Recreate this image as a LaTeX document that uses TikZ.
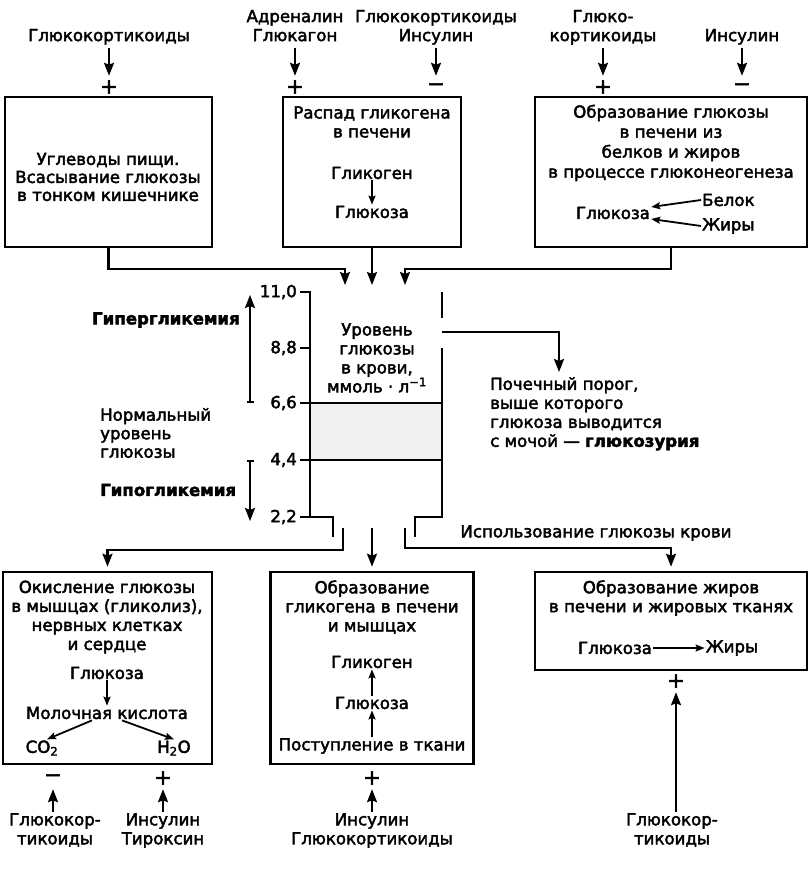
\documentclass[tikz,border=0pt]{standalone}
\usepackage{fontspec}
\setmainfont{DejaVu Sans}[FakeBold=2.5, BoldFont=DejaVu Sans Bold]
\usetikzlibrary{arrows.meta,positioning}
\tikzstyle{boxframe} = [rectangle, draw=black, line width=2.6pt, inner sep=0pt]
\tikzstyle{txt} = [align=center, inner sep=1pt]
\tikzstyle{hormone} = [align=center, inner sep=1pt, execute at begin node=\strut, execute at end node=\strut]
\tikzstyle{sign} = [inner sep=0pt, minimum height=22pt, font=\fontsize{21}{22}\selectfont]
\tikzstyle{lvl} = [anchor=east, inner sep=1pt]
\tikzstyle{wall} = [line width=2.4pt]
\tikzstyle{arrow} = [line width=2.2pt, -{Stealth[length=13pt,width=10pt,inset=2pt]}]
\tikzstyle{thin arrow} = [line width=1.8pt, -{Stealth[length=9pt,width=7pt,inset=1.5pt]}]
\tikzstyle{span arrow} = [line width=2.2pt, {Bar[width=7pt]}-{Stealth[length=13pt,width=10pt,inset=2pt]}]

\begin{document}
\begin{tikzpicture}[x=1pt, y=-1pt, font=\fontsize{16.6}{19}\selectfont]
	\useasboundingbox (0,0) rectangle (809,869);
	% sources of glucose
	\node (box1) [boxframe, minimum width=207pt, minimum height=150pt] at (108.5,172) {};
	\node (box2) [boxframe, minimum width=178pt, minimum height=150pt] at (372,172) {};
	\node (box3) [boxframe, minimum width=272pt, minimum height=150pt] at (671,172) {};
	\node (food) [txt, font=\fontsize{16.6}{18}\selectfont] at (108,177) {Углеводы пищи.\\Всасывание глюкозы\\в тонком кишечнике};
	\node (split) [txt] at (372,122) {Распад гликогена\\в печени};
	\node (glg2) [txt] at (372,173) {Гликоген};
	\node (glc2) [txt] at (372,212) {Глюкоза};
	\draw [thin arrow] (glg2) -- (glc2);
	\node (gng) [txt, font=\fontsize{16.6}{20}\selectfont] at (671,143) {Образование глюкозы\\в печени из\\белков и жиров\\в процессе глюконеогенеза};
	\node (glc3) [txt] at (613,213) {Глюкоза};
	\node (prot) [txt, anchor=west] at (701,200) {Белок};
	\node (fat3) [txt, anchor=west] at (701,226) {Жиры};
	\draw [thin arrow] (prot.west) -- ([yshift=6pt]glc3.east);
	\draw [thin arrow] (fat3.west) -- ([yshift=-6pt]glc3.east);

	\node (hA) [hormone, anchor=south] at (109,48) {Глюкокортикоиды};
	\node (hB) [hormone, anchor=south] at (295,48) {Адреналин\\Глюкагон};
	\node (hC) [hormone, anchor=south] at (436,48) {Глюкокортикоиды\\Инсулин};
	\node (hD) [hormone, anchor=south] at (603,48) {Глюко-\\кортикоиды};
	\node (hE) [hormone, anchor=south] at (742,48) {Инсулин};
	\node (sA) [sign] at (109,87) {+};
	\node (sB) [sign] at (295,87) {+};
	\node (sC) [sign] at (436,87) {−};
	\node (sD) [sign] at (603,87) {+};
	\node (sE) [sign] at (742,87) {−};
	\draw [arrow] (hA) -- (sA);
	\draw [arrow] (hB) -- (sB);
	\draw [arrow] (hC.south) -- (sC);
	\draw [arrow] (hD) -- (sD);
	\draw [arrow] (hE) -- (sE);

	\coordinate (in1) at (345,285);
	\coordinate (in2) at (372,285);
	\coordinate (in3) at (405,285);
	\draw [arrow] (box1.south) -- ++(0,21) -| (in1);
	\draw [arrow] (box2.south) -- (in2);
	\draw [arrow] (box3.south) -- ++(0,21) -| (in3);

	% blood glucose vessel
	\fill [black!6] (310,403) rectangle (442,460);
	\draw [wall] (300,292) -- (310,292) -- (310,517) -- (333,517) -- (333,537);
	\draw [wall] (442,292) -- (442,318);
	\draw [wall] (442,348) -- (442,517) -- (415,517) -- (415,537);
	\draw [wall] (300,348) -- (310,348);
	\draw [wall] (300,403) -- (442,403);
	\draw [wall] (300,460) -- (442,460);
	\draw [wall] (300,517) -- (310,517);
	\node (v110) [lvl] at (298,292) {11,0};
	\node (v88) [lvl] at (298,348) {8,8};
	\node (v66) [lvl] at (298,403) {6,6};
	\node (v44) [lvl] at (298,460) {4,4};
	\node (v22) [lvl] at (298,517) {2,2};
	\node (level) [txt] at (377,358) {Уровень\\глюкозы\\в крови,\\ммоль · л\textsuperscript{−1}};

	\coordinate (hyp1) at (250,403);
	\coordinate (hyp2) at (250,295);
	\coordinate (hypo1) at (250,460);
	\coordinate (hypo2) at (250,521);
	\draw [span arrow] (hyp1) -- (hyp2);
	\draw [span arrow] (hypo1) -- (hypo2);
	\node (hyper) [txt, anchor=east] at (241,320) {\textbf{Гипергликемия}};
	\node (norm) [txt, align=left, anchor=west, font=\fontsize{16.6}{18.5}\selectfont] at (99,433) {Нормальный\\уровень\\глюкозы};
	\node (hypo) [txt, anchor=west] at (99,490) {\textbf{Гипогликемия}};

	\coordinate (ovf) at (442,332);
	\node (renal) [txt, align=left, anchor=north west] at (489,376) {Почечный порог,\\выше которого\\глюкоза выводится\\с мочой — \textbf{глюкозурия}};
	\draw [arrow] (ovf) -| ([shift={(70pt,4pt)}]renal.north west);

	\node (use) [txt] at (596,533) {Использование глюкозы крови};

	% use of glucose
	\node (box4) [boxframe, minimum width=209pt, minimum height=192pt] at (107.5,668) {};
	\node (box5) [boxframe, minimum width=203pt, minimum height=192pt] at (372,668) {};
	\node (box6) [boxframe, minimum width=272pt, minimum height=98pt] at (671,621) {};

	\coordinate (out1) at (343,528);
	\coordinate (out2) at (372,528);
	\coordinate (out3) at (405,528);
	\draw [arrow, shorten >=4pt] (out1) -- ++(0,22) -| (box4.north);
	\draw [arrow, shorten >=4pt] (out2) -- (box5.north);
	\draw [arrow, shorten >=4pt] (out3) -- ++(0,20) -| (box6.north);

	\node (oxid) [txt] at (107,617) {Окисление глюкозы\\в мышцах (гликолиз),\\нервных клетках\\и сердце};
	\node (glc4) [txt] at (107,673) {Глюкоза};
	\node (lact) [txt] at (107,713) {Молочная кислота};
	\node (co2) [txt] at (42,748) {CO\textsubscript{2}};
	\node (h2o) [txt] at (174,748) {H\textsubscript{2}O};
	\draw [thin arrow] (glc4) -- (lact);
	\draw [thin arrow] ([xshift=-15pt]lact.south) -- ([xshift=5pt]co2.north);
	\draw [thin arrow] ([xshift=15pt]lact.south) -- (h2o.north);

	\node (gform) [txt] at (372,607) {Образование\\гликогена в печени\\и мышцах};
	\node (glg5) [txt] at (372,662) {Гликоген};
	\node (glc5) [txt] at (372,703) {Глюкоза};
	\node (entry) [txt] at (372,746) {Поступление в ткани};
	\draw [thin arrow] (glc5) -- (glg5);
	\draw [thin arrow] (entry) -- (glc5);

	\node (fform) [txt] at (671,598) {Образование жиров\\в печени и жировых тканях};
	\node (glc6) [txt] at (615,648) {Глюкоза};
	\node (fat6) [txt] at (732,648) {Жиры};
	\draw [thin arrow] (glc6) -- (fat6);

	\node (s4a) [sign] at (53,778) {−};
	\node (s4b) [sign] at (163,778) {+};
	\node (s5) [sign] at (372,778) {+};
	\node (s6) [sign] at (676,681) {+};
	\node (h4a) [hormone, anchor=north] at (55,812) {Глюкокор-\\тикоиды};
	\node (h4b) [hormone, anchor=north] at (163,812) {Инсулин\\Тироксин};
	\node (h5) [hormone, anchor=north] at (372,812) {Инсулин\\Глюкокортикоиды};
	\node (h6) [hormone, anchor=north] at (672,812) {Глюкокор-\\тикоиды};
	\draw [arrow] (s4a |- h4a.north) -- (s4a);
	\draw [arrow] (h4b) -- (s4b);
	\draw [arrow] (h5) -- (s5);
	\draw [arrow] (s6 |- h6.north) -- (s6);
\end{tikzpicture}
\end{document}
